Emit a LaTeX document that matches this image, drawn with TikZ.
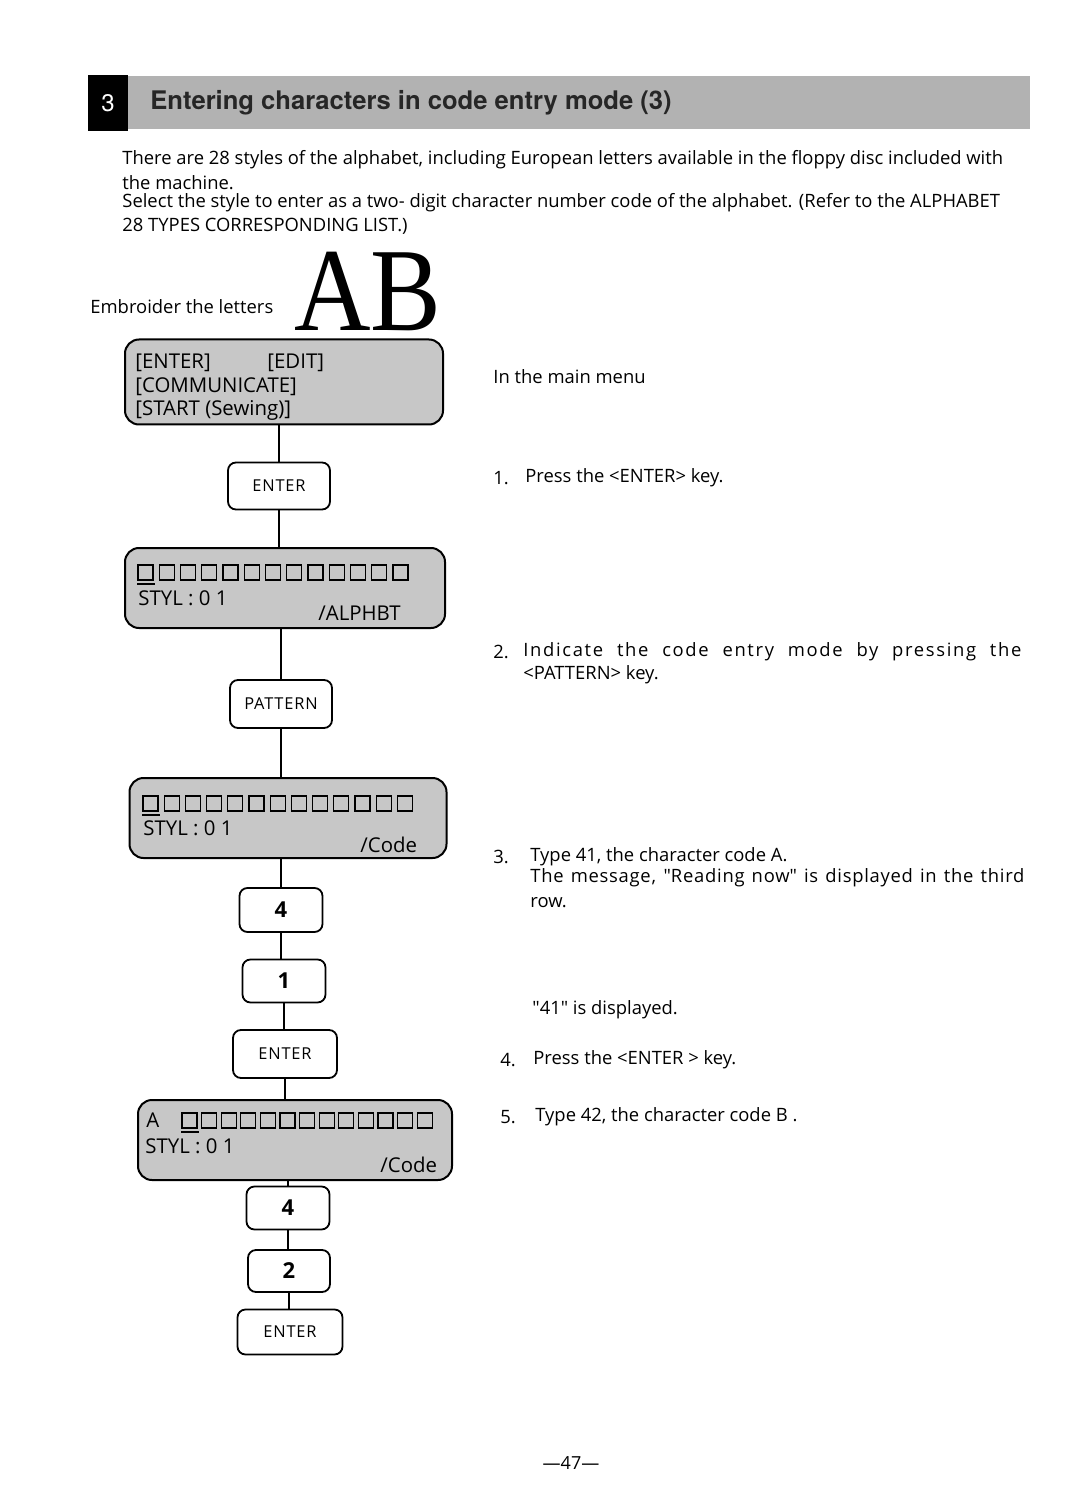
\documentclass[tikz,border=0pt]{standalone}
\usepackage{fontspec}
\setmainfont{Open Sans}
\newfontfamily\headfont{TeX Gyre Heros}
\newfontfamily\abfont{Liberation Serif}
\usetikzlibrary{positioning}
\usetikzlibrary{calc}

\tikzset{
  lcd/.style={draw, line width=1pt, rounded corners=7pt, fill=black!22, inner sep=0pt},
  keybox/.style={draw, line width=0.9pt, rounded corners=4pt, fill=white, inner sep=0pt,
    font=\fontsize{8.2}{9}\selectfont\addfontfeature{LetterSpace=5}},
  numkey/.style={keybox, font=\fontsize{11}{12}\selectfont\bfseries},
  link/.style={line width=0.7pt},
  txt/.style={anchor=west, inner sep=0pt, font=\fontsize{9.2}{11}\selectfont},
  lcdtxt/.style={anchor=west, inner sep=0pt, font=\fontsize{10.2}{12}\selectfont},
  cell/.style={line width=0.6pt},
}

\begin{document}
\begin{tikzpicture}[x=0.5pt,y=-0.5pt]
  \useasboundingbox (0,0) rectangle (1080,1491);
  \fill[white] (0,0) rectangle (1080,1491);

  % heading bar
  \fill[black] (88,75) rectangle (128,131);
  \fill[black!30] (128,76) rectangle (1030,129);
  \node[text=white, font=\headfont\fontsize{12}{12}\selectfont] (secnum) at (108,103) {3};
  \node[anchor=west, inner sep=0pt, text=black!85,
    font=\headfont\bfseries\fontsize{12.8}{13}\selectfont] (title) at (150,103)
    {Entering characters in code entry mode (3)};

  % introduction
  \node[txt] (introa) at (122,160) {There are 28 styles of the alphabet, including European letters available in the floppy disc included with};
  \node[txt] (introb) at (122,183) {the machine.};
  \node[txt] (introc) at (122,203) {Select the style to enter as a two- digit character number code of the alphabet. (Refer to the ALPHABET};
  \node[txt] (introd) at (122,226) {28 TYPES CORRESPONDING LIST.)};

  \node[txt] (embroider) at (90,307) {Embroider the letters};
  \node[anchor=south west, inner sep=0pt, font=\abfont\fontsize{53}{53}\selectfont]
    (ab) at (294,331) {\scalebox{1}[1.12]{AB}};

  % main menu display
  \node[lcd, minimum width=159pt, minimum height=42.5pt] (menu) at (284,382) {};
  \node[lcdtxt] (menua) at (135,363) {[ENTER]};
  \node[lcdtxt] (menub) at (267,363) {[EDIT]};
  \node[lcdtxt] (menuc) at (135,387) {[COMMUNICATE]};
  \node[lcdtxt] (menud) at (135,410) {[START (Sewing)]};

  \node[keybox, minimum width=51pt, minimum height=23.5pt] (entera) at (279,486) {ENTER};

  % alphabet display
  \node[lcd, minimum width=160pt, minimum height=40pt] (alph) at (285,588) {};
  \foreach \i in {0,...,12}
    \draw[cell] (138+\i*21.25,565) rectangle ++(15,15);
  \draw[cell] (137,584) -- (155,584);
  \node[lcdtxt] (alphstyl) at (138,598) {STYL : 0 1};
  \node[lcdtxt] (alphmode) at (318,613) {/ALPHBT};

  \node[keybox, minimum width=51pt, minimum height=24pt] (pattern) at (281,704) {PATTERN};

  % code display
  \node[lcd, minimum width=158.5pt, minimum height=40pt] (code) at (288,818) {};
  \foreach \i in {0,...,12}
    \draw[cell] (143+\i*21.2,796) rectangle ++(15,15);
  \draw[cell] (142,815) -- (160,815);
  \node[lcdtxt] (codestyl) at (143,828) {STYL : 0 1};
  \node[lcdtxt] (codemode) at (360,845) {/Code};

  \node[numkey, minimum width=41.5pt, minimum height=22pt] (foura) at (281,910) {4};
  \node[numkey, minimum width=41.5pt, minimum height=21.5pt] (one) at (284,981) {1};
  \node[keybox, minimum width=52pt, minimum height=24pt] (enterb) at (285,1054) {ENTER};

  % display after code A
  \node[lcd, minimum width=157pt, minimum height=40pt] (codea) at (295,1140) {};
  \node[lcdtxt] (letter) at (146,1120) {A};
  \foreach \i in {0,...,12}
    \draw[cell] (182+\i*19.6,1113) rectangle ++(15,15);
  \draw[cell] (181,1132) -- (199,1132);
  \node[lcdtxt] (codeastyl) at (145,1146) {STYL : 0 1};
  \node[lcdtxt] (codeamode) at (380,1165) {/Code};

  \node[numkey, minimum width=41.5pt, minimum height=21.5pt] (fourb) at (288,1208) {4};
  \node[numkey, minimum width=41pt, minimum height=21pt] (two) at (289,1271) {2};
  \node[keybox, minimum width=52.5pt, minimum height=22.5pt] (enterc) at (290,1332) {ENTER};

  % connectors
  \draw[link] (menu.south -| entera) -- (entera.north);
  \draw[link] (entera.south) -- (entera.south |- alph.north);
  \draw[link] (alph.south -| pattern) -- (pattern.north);
  \draw[link] (pattern.south) -- (pattern.south |- code.north);
  \draw[link] (code.south -| foura) -- (foura.north);
  \draw[link] (foura.south) -- (foura.south |- one.north);
  \draw[link] (one.south) -- (one.south |- enterb.north);
  \draw[link] (enterb.south) -- (enterb.south |- codea.north);
  \draw[link] (codea.south -| fourb) -- (fourb.north);
  \draw[link] (fourb.south) -- (fourb.south |- two.north);
  \draw[link] (two.south) -- (two.south |- enterc.north);

  % steps
  \node[txt] (mainmenu) at (493,377) {In the main menu};
  \node[txt] (stepa) at (493,478) {1.};
  \node[txt] (stepatxt) at (525,478) {Press the <ENTER> key.};
  \node[txt] (stepb) at (493,652) {2.};
  \node[txt] (stepbtxt) at (523,652)
    {\addfontfeature{LetterSpace=9}\makebox[249pt][s]{Indicate the code entry mode by pressing the}};
  \node[txt] (stepbtxtb) at (523,675) {<PATTERN> key.};
  \node[txt] (stepc) at (493,857) {3.};
  \node[txt] (stepctxt) at (530,857) {Type 41, the character code A.};
  \node[txt] (stepctxtb) at (530,878)
    {\addfontfeature{LetterSpace=4}\makebox[247pt][s]{The message, \textquotedbl Reading now\textquotedbl{} is displayed in the third}};
  \node[txt] (stepctxtc) at (530,903) {row.};
  \node[txt] (shown) at (532,1010) {\textquotedbl 41\textquotedbl{} is displayed.};
  \node[txt] (stepd) at (500,1060) {4.};
  \node[txt] (stepdtxt) at (533,1060) {Press the <ENTER > key.};
  \node[txt] (stepe) at (500,1117) {5.};
  \node[txt] (stepetxt) at (535,1117) {Type 42, the character code B .};

  \node[inner sep=0pt, font=\fontsize{9}{10}\selectfont] (page) at (571,1463) {—47—};
\end{tikzpicture}
\end{document}
